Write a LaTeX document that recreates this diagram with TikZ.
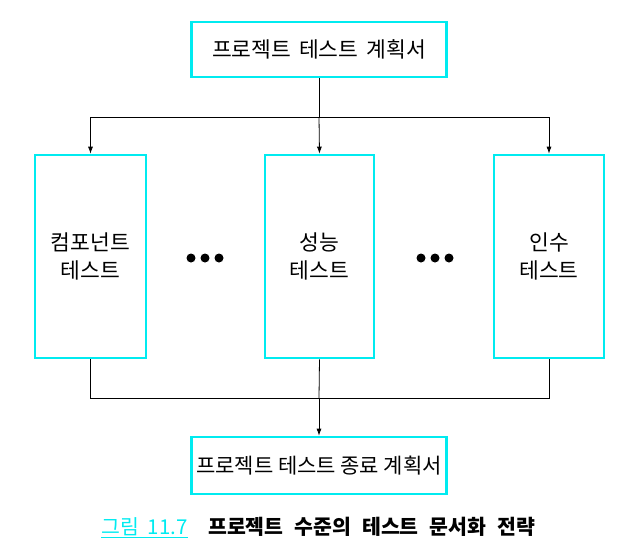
\documentclass[tikz,border=0pt]{standalone}
\usepackage{fontspec}
\setmainfont{Noto Sans CJK KR}
\newfontfamily\kr{Noto Sans CJK KR}
\usetikzlibrary{arrows.meta}
\definecolor{boxcyan}{RGB}{0,235,240}
\newcommand{\gapA}{\hspace{8pt}}
\newcommand{\gapB}{\hspace{4.5pt}}
\newcommand{\gapC}{\hspace{9pt}}
\newcommand{\gapD}{\hspace{11pt}}
\begin{document}
\begin{tikzpicture}[x=1pt,y=-1pt,
  docbox/.style={draw=boxcyan,line width=2.6pt,fill=white,inner sep=0pt,font=\kr\fontsize{21.5}{28}\selectfont,align=center},
  conn/.style={line width=0.8pt,draw=black},
  arr/.style={conn,-{Latex[length=7pt,width=5pt]}},
  dot/.style={circle,fill=black,inner sep=0pt,minimum size=9pt}]
\useasboundingbox (0,0) rectangle (638,560);
\node[docbox,minimum width=255pt,minimum height=55pt] (top) at (319,49.5) {프로젝트\gapA 테스트\gapA 계획서};
\node[docbox,minimum width=111pt,minimum height=203pt] (comp) at (90.5,256.5) {컴포넌트\\테스트};
\node[docbox,minimum width=109pt,minimum height=203pt] (perf) at (319.5,256.5) {성능\\테스트};
\node[docbox,minimum width=110pt,minimum height=203pt] (acc) at (549,256.5) {인수\\테스트};
\node[docbox,minimum width=255pt,minimum height=57pt,font=\kr\fontsize{21}{28}\selectfont] (end) at (319,465.5) {프로젝트\gapB 테스트\gapB 종료\gapB 계획서};
\coordinate (split) at (319,117);
\coordinate (join) at (319,398);
\draw[conn] (top.south) -- (split);
\draw[arr] (split) -| (comp.north);
\draw[arr] (split) -- (perf.north);
\draw[arr] (split) -| (acc.north);
\draw[conn] (comp.south) |- (join);
\draw[conn] (acc.south) |- (join);
\draw[conn] (perf.south) -- (join);
\draw[arr] (join) -- (end.north);
\node[dot] (d1) at (191,258) {};
\node[dot] (d2) at (205,258) {};
\node[dot] (d3) at (219,258) {};
\node[dot] (d4) at (421,258) {};
\node[dot] (d5) at (435,258) {};
\node[dot] (d6) at (449,258) {};
\node[anchor=west,inner sep=0pt,font=\kr\fontsize{20.5}{24}\selectfont,text=boxcyan] (fig) at (101,527) {그림\gapC 11.7};
\draw[draw=boxcyan,line width=1pt] ([yshift=-1.5pt]fig.south west) -- ([yshift=-1.5pt]fig.south east);
\node[anchor=west,inner sep=0pt,font=\kr\bfseries\fontsize{20.5}{24}\selectfont] (cap) at (208,527) {프로젝트\gapD 수준의\gapD 테스트\gapD 문서화\gapD 전략};
\end{tikzpicture}
\end{document}
